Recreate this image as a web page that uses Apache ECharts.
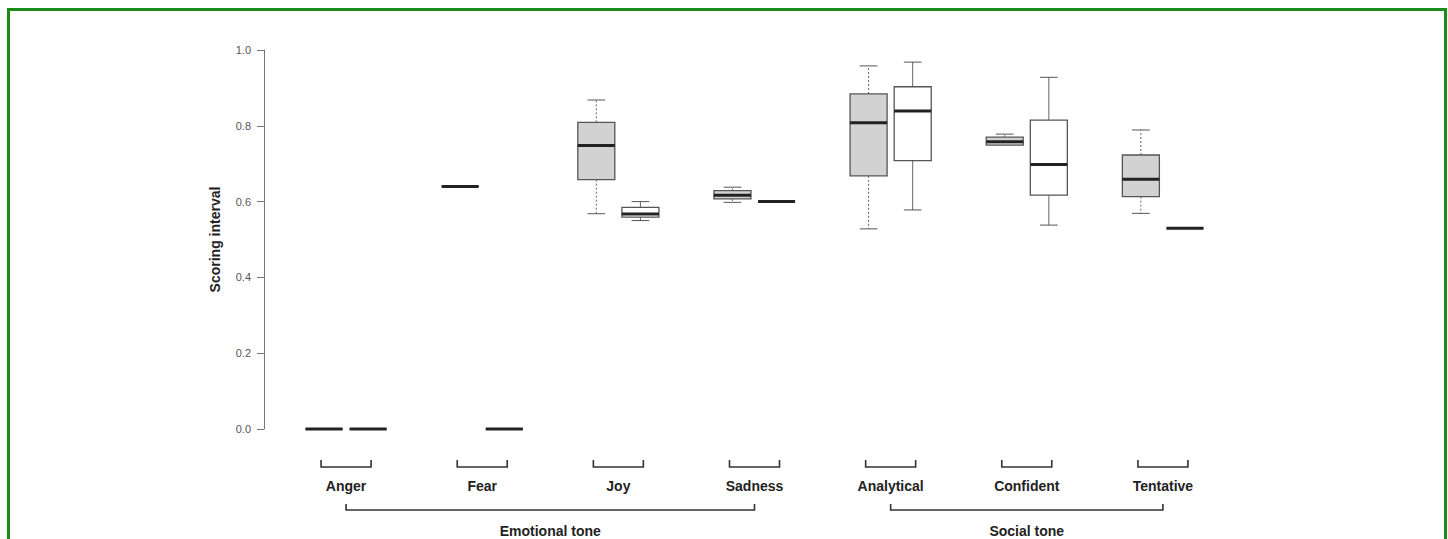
<!DOCTYPE html>
<html>
<head>
<meta charset="utf-8">
<script src="https://cdn.jsdelivr.net/npm/echarts@6/dist/echarts.min.js"></script>
<style>
  html, body { margin: 0; padding: 0; background: #fff; }
  #frame { position: absolute; left: 7px; top: 8px; width: 1440px; height: 560px; border: 3px solid #1a8c1a; box-sizing: border-box; }
  #chart { position: absolute; left: 0; top: 0; width: 1448px; height: 539px; }
</style>
</head>
<body>
<div id="frame"></div>
<div id="chart"></div>
<script>
// ---- data ----
const categories = ['Anger', 'Fear', 'Joy', 'Sadness', 'Analytical', 'Confident', 'Tentative'];
const groups = ['Emotional tone', 'Social tone'];
const groupStart = [0, 4];
const groupEnd = [3, 6];
// [min, Q1, median, Q3, max]
const grayStats = [
  [0, 0, 0, 0, 0],
  [0.64, 0.64, 0.64, 0.64, 0.64],
  [0.568, 0.658, 0.748, 0.809, 0.868],
  [0.598, 0.607, 0.617, 0.629, 0.638],
  [0.528, 0.668, 0.808, 0.884, 0.958],
  [0.749, 0.749, 0.758, 0.770, 0.778],
  [0.569, 0.613, 0.659, 0.723, 0.789]
];
const whiteStats = [
  [0, 0, 0, 0, 0],
  [0, 0, 0, 0, 0],
  [0.550, 0.559, 0.567, 0.585, 0.600],
  [0.60, 0.60, 0.60, 0.60, 0.60],
  [0.578, 0.708, 0.839, 0.903, 0.968],
  [0.538, 0.617, 0.698, 0.815, 0.928],
  [0.53, 0.53, 0.53, 0.53, 0.53]
];
const yTicks = [0, 0.2, 0.4, 0.6, 0.8, 1.0];

// ---- rendering ----
const chart = echarts.init(document.getElementById('chart'), null, { renderer: 'svg' });

function boxRenderer(side, fill, dashed) {
  return function (params, api) {
    const cat = api.value(0);
    const band = api.size([1, 0])[0];
    const cx = api.coord([cat, 0])[0] + side * band * 0.162;
    const w = band * 0.272;
    const cap = band * 0.13;
    const yMin = api.coord([cat, api.value(1)])[1];
    const yQ1 = api.coord([cat, api.value(2)])[1];
    const yMed = api.coord([cat, api.value(3)])[1];
    const yQ3 = api.coord([cat, api.value(4)])[1];
    const yMax = api.coord([cat, api.value(5)])[1];
    const wStyle = { stroke: '#666', lineWidth: 1, lineDash: dashed ? [2, 2] : null };
    const children = [];
    if (yMin - yQ1 > 0.5) {
      children.push({ type: 'line', shape: { x1: cx, y1: yQ1, x2: cx, y2: yMin }, style: wStyle });
      children.push({ type: 'line', shape: { x1: cx - cap / 2, y1: yMin, x2: cx + cap / 2, y2: yMin }, style: { stroke: '#555', lineWidth: 1 } });
    }
    if (yQ3 - yMax > 0.5) {
      children.push({ type: 'line', shape: { x1: cx, y1: yQ3, x2: cx, y2: yMax }, style: wStyle });
      children.push({ type: 'line', shape: { x1: cx - cap / 2, y1: yMax, x2: cx + cap / 2, y2: yMax }, style: { stroke: '#555', lineWidth: 1 } });
    }
    children.push({ type: 'rect', shape: { x: cx - w / 2, y: yQ3, width: w, height: yQ1 - yQ3 }, style: { fill: fill, stroke: '#555', lineWidth: 1.3 } });
    children.push({ type: 'line', shape: { x1: cx - w / 2, y1: yMed, x2: cx + w / 2, y2: yMed }, style: { stroke: '#222', lineWidth: 3 } });
    return { type: 'group', children: children };
  };
}

function bracketRenderer(params, api) {
  const i = api.value(0);
  const p = api.coord([i, 0]);
  const half = 25;
  const y1 = p[1] + 31, y2 = p[1] + 38;
  return {
    type: 'polyline',
    shape: { points: [[p[0] - half, y1], [p[0] - half, y2], [p[0] + half, y2], [p[0] + half, y1]] },
    style: { stroke: '#333', lineWidth: 1.6, fill: null }
  };
}

function groupRenderer(params, api) {
  const a = api.coord([api.value(0), 0]);
  const b = api.coord([api.value(1), 0]);
  const y1 = a[1] + 75, y2 = a[1] + 81;
  return {
    type: 'group',
    children: [
      { type: 'polyline', shape: { points: [[a[0], y1], [a[0], y2], [b[0], y2], [b[0], y1]] }, style: { stroke: '#333', lineWidth: 1.6, fill: null } },
      { type: 'text', style: { text: groups[params.dataIndex], x: (a[0] + b[0]) / 2, y: a[1] + 102, align: 'center', verticalAlign: 'middle', fill: '#222', font: 'bold 14px "Liberation Sans", Arial, sans-serif' } }
    ]
  };
}

const grayData = grayStats.map((s, i) => [i].concat(s));
const whiteData = whiteStats.map((s, i) => [i].concat(s));
const bracketData = categories.map((c, i) => [i]);
const groupData = groups.map((g, i) => [groupStart[i], groupEnd[i]]);

chart.setOption({
  animation: false,
  backgroundColor: 'transparent',
  grid: { left: 278, right: 217, top: 50, bottom: 110 },
  xAxis: {
    type: 'category',
    data: categories,
    axisLine: { show: false },
    axisTick: { show: false },
    axisLabel: { margin: 50, fontSize: 14, fontWeight: 'bold', color: '#222', fontFamily: '"Liberation Sans", Arial, sans-serif' },
    splitLine: { show: false }
  },
  yAxis: {
    type: 'value',
    min: 0, max: 1, interval: 0.2,
    offset: 14,
    name: 'Scoring interval',
    nameLocation: 'middle',
    nameGap: 42,
    nameTextStyle: { fontSize: 14, fontWeight: 'bold', color: '#222', fontFamily: '"Liberation Sans", Arial, sans-serif' },
    axisLine: { show: true, lineStyle: { color: '#777', width: 1 } },
    axisTick: { show: true, length: 7, lineStyle: { color: '#777' } },
    axisLabel: { margin: 13, fontSize: 11, color: '#555', fontFamily: '"Liberation Sans", Arial, sans-serif',
      formatter: v => yTicks.includes(Math.round(v * 10) / 10) ? v.toFixed(1) : '' },
    splitLine: { show: false }
  },
  series: [
    { type: 'custom', name: 'gray', renderItem: boxRenderer(-1, '#d2d2d2', true), data: grayData, encode: { x: 0, y: [1, 2, 3, 4, 5] }, clip: false, z: 3 },
    { type: 'custom', name: 'white', renderItem: boxRenderer(1, '#ffffff', false), data: whiteData, encode: { x: 0, y: [1, 2, 3, 4, 5] }, clip: false, z: 3 },
    { type: 'custom', name: 'ticks', renderItem: bracketRenderer, data: bracketData, encode: { x: 0 }, clip: false, silent: true },
    { type: 'custom', name: 'groups', renderItem: groupRenderer, data: groupData, encode: { x: [0, 1] }, clip: false, silent: true }
  ]
});
</script>
</body>
</html>
